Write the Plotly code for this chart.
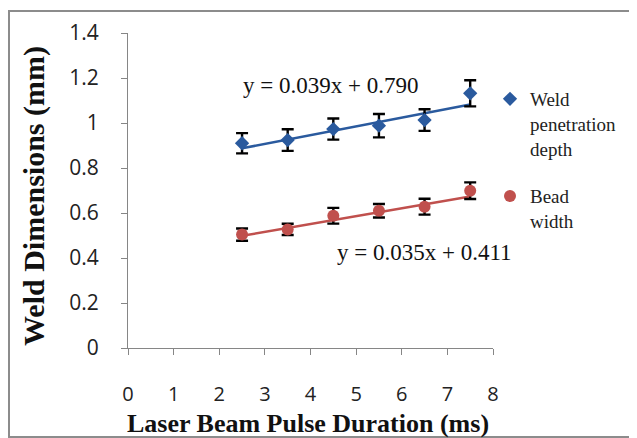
import plotly.graph_objects as go

# ---- data ----
pulse_ms = [2.5, 3.5, 4.5, 5.5, 6.5, 7.5]
depth_mm = [0.91, 0.924, 0.973, 0.988, 1.013, 1.132]
depth_err = [0.045, 0.048, 0.047, 0.052, 0.048, 0.058]
width_mm = [0.504, 0.527, 0.588, 0.61, 0.628, 0.699]
width_err = [0.027, 0.025, 0.035, 0.03, 0.035, 0.037]
depth_fit = [0.039, 0.790]   # slope, intercept
width_fit = [0.035, 0.411]
x_ticks = [0, 1, 2, 3, 4, 5, 6, 7, 8]
y_ticks = [0, 0.2, 0.4, 0.6, 0.8, 1, 1.2, 1.4]

BLUE = "#2A5A9E"
RED = "#C0504D"
SERIF = "Liberation Serif"
SANS = "Open Sans"

fit_x = [min(pulse_ms), max(pulse_ms)]

fig = go.Figure()
fig.add_trace(go.Scatter(
    x=fit_x, y=[depth_fit[0] * v + depth_fit[1] for v in fit_x],
    mode="lines", line=dict(color=BLUE, width=2.5), showlegend=False, hoverinfo="skip"))
fig.add_trace(go.Scatter(
    x=fit_x, y=[width_fit[0] * v + width_fit[1] for v in fit_x],
    mode="lines", line=dict(color=RED, width=2.5), showlegend=False, hoverinfo="skip"))
fig.add_trace(go.Scatter(
    x=pulse_ms, y=depth_mm, mode="markers", legendgroup="a",
    name="Weld<br>penetration<br>depth",
    marker=dict(symbol="diamond", size=11, color=BLUE),
    error_y=dict(type="data", array=depth_err, color="black", thickness=2.4, width=6)))
fig.add_trace(go.Scatter(
    x=pulse_ms, y=width_mm, mode="markers", legendgroup="b",
    name="Bead<br>width",
    marker=dict(symbol="circle", size=12, color=RED),
    error_y=dict(type="data", array=width_err, color="black", thickness=2.4, width=6)))

# page body has an 8px margin, so the figure is drawn 8px smaller
W, H = 629, 430
L, T = 120, 25
R, B = W - (493 - 8), H - (348 - 8)
pw, ph = W - L - R, H - T - B

def px(x_ref):
    return (x_ref - 128) / pw

def py(y_ref):
    return (348 - y_ref) / ph

fig.update_layout(
    width=W, height=H,
    margin=dict(l=L, r=R, t=T, b=B, autoexpand=False),
    paper_bgcolor="white", plot_bgcolor="white",
    showlegend=True,
    legend=dict(x=px(490), y=py(80), xanchor="left", yanchor="top",
                font=dict(family=SERIF, size=19, color="#222"),
                valign="top", tracegroupgap=20, itemwidth=30,
                bgcolor="rgba(0,0,0,0)"),
    xaxis=dict(range=[0, 8], tickvals=x_ticks, showgrid=False, zeroline=False,
               showline=True, linecolor="#868686", linewidth=1,
               ticks="outside", ticklen=6, tickcolor="#868686",
               ticklabelstandoff=22,
               tickfont=dict(family=SANS, size=20, color="#222")),
    yaxis=dict(range=[0, 1.4], tickvals=y_ticks, showgrid=False, zeroline=False,
               showline=True, linecolor="#868686", linewidth=1,
               ticks="outside", ticklen=6, tickcolor="#868686",
               ticklabelstandoff=18,
               tickfont=dict(family=SANS, size=21, color="#222")),
)

def note(text, xr, yr, size, angle=0):
    fig.add_annotation(text=text, xref="paper", yref="paper",
                       x=px(xr), y=py(yr), xanchor="center", yanchor="middle",
                       textangle=angle, showarrow=False,
                       font=dict(family=SERIF, size=size, color="#111"))

note("<b>Weld Dimensions (mm)</b>", 34, 196, 30, -90)
note("<b>Laser Beam Pulse Duration (ms)</b>", 308, 423, 26)
note("y = 0.039x + 0.790", 330, 85, 23)
note("y = 0.035x + 0.411", 424, 252, 23)

fig.add_shape(type="rect", xref="paper", yref="paper",
              x0=px(9), x1=px(680), y0=py(437), y1=py(11),
              line=dict(color="#8C8C8C", width=2), fillcolor="rgba(0,0,0,0)", layer="below")

fig.write_html("out.html")
